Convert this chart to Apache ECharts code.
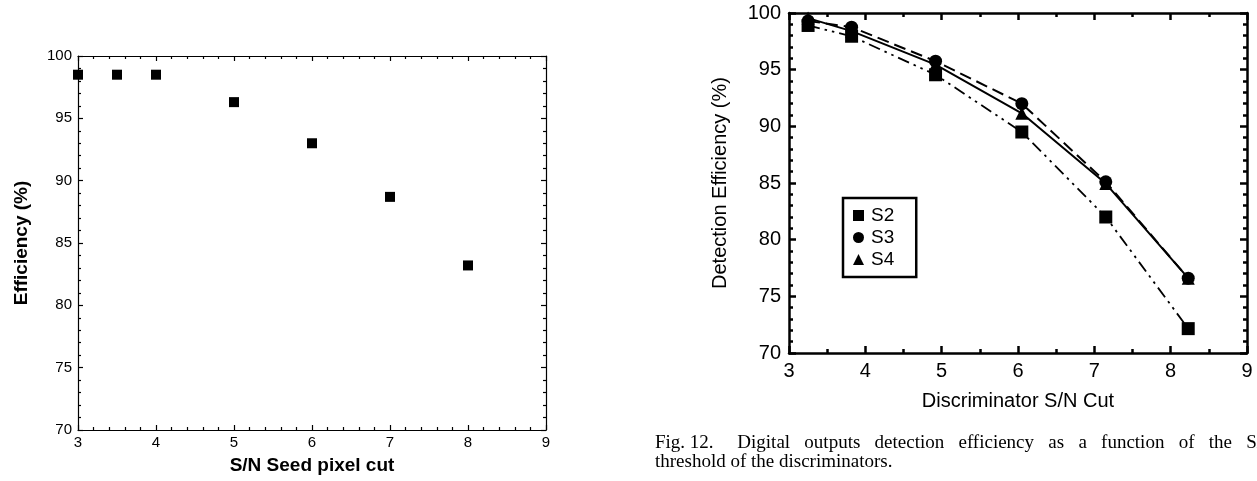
<!DOCTYPE html>
<html>
<head>
<meta charset="utf-8">
<script src="https://cdn.jsdelivr.net/npm/echarts@6/dist/echarts.min.js"></script>
<style>
  html, body { margin: 0; padding: 0; background: #fff; }
  #main { width: 1257px; height: 481px; }
</style>
</head>
<body>
<div id="main"></div>
<script>
// left panel: seed pixel cut scan
const seedCut = [3, 3.5, 4, 5, 6, 7, 8];
const seedEff = [98.5, 98.5, 98.5, 96.3, 93.0, 88.7, 83.2];

// right panel: discriminator scan, one list per sensor
const discCut = [3.25, 3.82, 4.92, 6.05, 7.15, 8.23];
const effS2 = [98.9, 97.95, 94.55, 89.5, 82.0, 72.15];
const effS3 = [99.3, 98.75, 95.75, 92.0, 85.1, 76.6];
const effS4 = [99.55, 98.4, 95.45, 91.15, 84.95, 76.6];

const seedTicks = [3, 4, 5, 6, 7, 8, 9];
const effTicks = [70, 75, 80, 85, 90, 95, 100];

const sans = "Liberation Sans, Arial, Helvetica, sans-serif";

function pairs(xs, ys) {
  return xs.map((x, i) => [x, ys[i]]);
}

// one axis (plus its mirrored twin) for each panel side
function axis(grid, opts) {
  const base = {
    type: "value",
    gridIndex: grid,
    min: opts.min,
    max: opts.max,
    interval: opts.interval,
    position: opts.position,
    splitLine: { show: false },
    axisLine: { show: true, onZero: false, lineStyle: { color: "#000", width: opts.lw } },
    axisTick: { show: true, inside: true, length: opts.tick, lineStyle: { color: "#000", width: opts.lw } },
    minorTick: { show: true, splitNumber: opts.minor, length: opts.minorTick, lineStyle: { color: "#000", width: opts.lw } },
    axisLabel: {
      show: !opts.mirror,
      color: "#000",
      fontFamily: sans,
      fontSize: opts.fontSize,
      margin: opts.margin,
      showMinLabel: true,
      showMaxLabel: true,
    },
  };
  if (opts.name) {
    base.name = opts.name;
    base.nameLocation = "middle";
    base.nameGap = opts.nameGap;
    base.nameTextStyle = {
      color: "#000",
      fontFamily: sans,
      fontSize: opts.nameSize,
      fontWeight: opts.bold ? "bold" : "normal",
    };
  }
  return base;
}

const leftX = { min: seedTicks[0], max: seedTicks[seedTicks.length - 1], interval: 1, minor: 5, lw: 1.2, tick: 5, minorTick: 3, fontSize: 15, margin: 5 };
const leftY = { min: effTicks[0], max: effTicks[effTicks.length - 1], interval: 5, minor: 5, lw: 1.2, tick: 5, minorTick: 3, fontSize: 15, margin: 6 };
const rightX = { min: 3, max: 9, interval: 1, minor: 2, lw: 2.5, tick: 7, minorTick: 4, fontSize: 20, margin: 8 };
const rightY = { min: 70, max: 100, interval: 5, minor: 5, lw: 2.5, tick: 7, minorTick: 4, fontSize: 20, margin: 8 };

var chartDom = document.getElementById("main");
var myChart = echarts.init(chartDom);
var option;

option = {
  backgroundColor: "#fff",
  animation: false,
  grid: [
    { left: 78, top: 56, width: 468, height: 374, outerBoundsMode: "none" },
    { left: 789, top: 13, width: 458, height: 340, outerBoundsMode: "none" },
  ],
  xAxis: [
    axis(0, { ...leftX, position: "bottom", name: "S/N Seed pixel cut", nameGap: 26, nameSize: 19, bold: true }),
    axis(0, { ...leftX, position: "top", mirror: true }),
    axis(1, { ...rightX, position: "bottom", name: "Discriminator S/N Cut", nameGap: 38, nameSize: 20 }),
    axis(1, { ...rightX, position: "top", mirror: true }),
  ],
  yAxis: [
    axis(0, { ...leftY, position: "left", name: "Efficiency (%)", nameGap: 47, nameSize: 19, bold: true }),
    axis(0, { ...leftY, position: "right", mirror: true }),
    axis(1, { ...rightY, position: "left", name: "Detection Efficiency (%)", nameGap: 59, nameSize: 20 }),
    axis(1, { ...rightY, position: "right", mirror: true }),
  ],
  legend: {
    orient: "vertical",
    left: 843,
    top: 198,
    padding: [8, 22, 8, 10],
    itemGap: 3,
    itemWidth: 11,
    itemHeight: 11,
    borderColor: "#000",
    borderWidth: 2.5,
    textStyle: { color: "#000", fontFamily: sans, fontSize: 19, padding: [0, 0, 0, 2] },
    data: [
      { name: "S2", icon: "rect" },
      { name: "S3", icon: "circle" },
      { name: "S4", icon: "triangle" },
    ],
  },
  series: [
    {
      type: "scatter",
      xAxisIndex: 0,
      yAxisIndex: 0,
      symbol: "rect",
      symbolSize: 10,
      itemStyle: { color: "#000", opacity: 1 },
      data: pairs(seedCut, seedEff),
    },
    {
      name: "S2",
      type: "line",
      xAxisIndex: 2,
      yAxisIndex: 2,
      symbol: "rect",
      symbolSize: 13,
      z: 2,
      itemStyle: { color: "#000" },
      lineStyle: { color: "#000", width: 1.8, type: [12, 5, 2.5, 5, 2.5, 5] },
      data: pairs(discCut, effS2),
    },
    {
      name: "S4",
      type: "line",
      xAxisIndex: 2,
      yAxisIndex: 2,
      symbol: "triangle",
      symbolSize: 13,
      z: 3,
      itemStyle: { color: "#000" },
      lineStyle: { color: "#000", width: 2 },
      data: pairs(discCut, effS4),
    },
    {
      name: "S3",
      type: "line",
      xAxisIndex: 2,
      yAxisIndex: 2,
      symbol: "circle",
      symbolSize: 13,
      z: 4,
      itemStyle: { color: "#000" },
      lineStyle: { color: "#000", width: 2, type: [12, 6] },
      data: pairs(discCut, effS3),
    },
  ],
  graphic: [
    {
      type: "text",
      left: 655,
      top: 434,
      style: {
        text: "Fig. 12.     Digital   outputs   detection   efficiency   as   a   function   of   the   S/N",
        font: "19px 'Liberation Serif', 'Times New Roman', serif",
        fill: "#000",
      },
    },
    {
      type: "text",
      left: 655,
      top: 453,
      style: {
        text: "threshold of the discriminators.",
        font: "19px 'Liberation Serif', 'Times New Roman', serif",
        fill: "#000",
      },
    },
  ],
};

option && myChart.setOption(option);
</script>
</body>
</html>
